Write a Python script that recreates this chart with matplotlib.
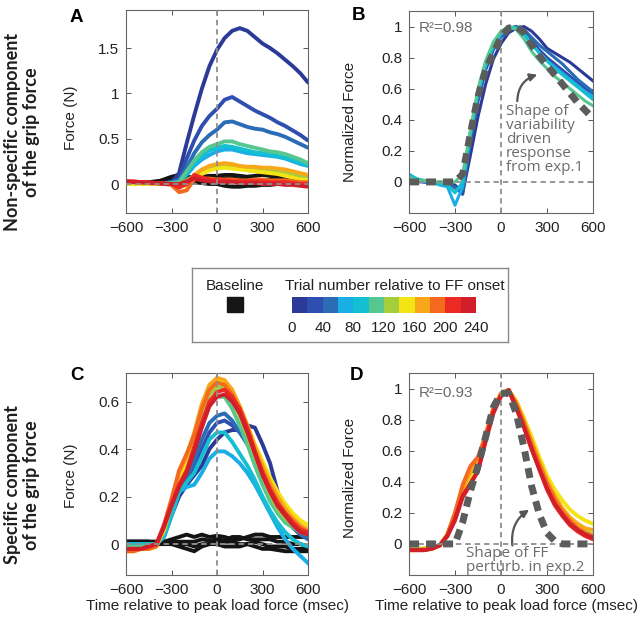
#!/usr/bin/python
# Grip force: non-specific (A, B) and specific (C, D) components vs time
# relative to peak load force, coloured by trial number after FF onset.

import matplotlib.pyplot as plt
from matplotlib.colors import ListedColormap
from matplotlib.patches import Rectangle
from matplotlib.ticker import FormatStrFormatter

plt.rcParams['font.family'] = ['Liberation Sans', 'DejaVu Sans']
row_font = ['Lato', 'DejaVu Sans']
note_font = ['Open Sans', 'DejaVu Sans']

# time relative to peak load force (msec)
t_ms = [-600, -550, -500, -450, -400, -350, -300, -250, -200, -150, -100, -50,
        0, 50, 100, 150, 200, 250, 300, 350, 400, 450, 500, 550, 600]
x_ticks = [-600, -300, 0, 300, 600]

# trial classes relative to FF onset (20 trials each)
trial_edges = [0, 20, 40, 60, 80, 100, 120, 140, 160, 180, 200, 220, 240]
trial_ticks = [0, 40, 80, 120, 160, 200, 240]
trial_colors = ['#2b3a96', '#2f4fb0', '#2a6cb6', '#1aaee6', '#13bfd0', '#55c78f',
                '#a5ce3c', '#f4e414', '#f8a71b', '#f4691e', '#ec2a24', '#d01f2a']

# ---- A: non-specific component, raw force (N), one curve per trial class
force_a = [
    [0.01, 0.01, 0.0, 0.0, 0.0, 0.01, 0.02, 0.12, 0.45, 0.76, 1.05, 1.30, 1.48, 1.61, 1.69, 1.72, 1.69, 1.62, 1.55, 1.50, 1.44, 1.37, 1.30, 1.22, 1.12],
    [0.01, 0.01, 0.0, 0.0, 0.0, 0.01, 0.02, 0.06, 0.28, 0.48, 0.64, 0.75, 0.83, 0.93, 0.96, 0.91, 0.86, 0.81, 0.77, 0.73, 0.68, 0.64, 0.59, 0.54, 0.48],
    [0.01, 0.01, 0.0, 0.0, 0.0, 0.01, 0.02, 0.04, 0.18, 0.34, 0.46, 0.54, 0.60, 0.68, 0.69, 0.66, 0.63, 0.61, 0.60, 0.57, 0.55, 0.52, 0.48, 0.44, 0.40],
    [0.0, 0.0, 0.0, 0.0, 0.0, 0.0, 0.01, 0.02, 0.10, 0.20, 0.27, 0.32, 0.36, 0.38, 0.38, 0.36, 0.34, 0.33, 0.32, 0.31, 0.30, 0.28, 0.25, 0.22, 0.20],
    [0.0, 0.0, 0.0, 0.0, 0.0, 0.0, 0.01, 0.02, 0.12, 0.23, 0.31, 0.37, 0.40, 0.42, 0.41, 0.39, 0.37, 0.35, 0.34, 0.33, 0.31, 0.29, 0.27, 0.24, 0.21],
    [0.0, 0.0, 0.0, 0.0, 0.0, 0.0, 0.01, 0.02, 0.14, 0.26, 0.35, 0.41, 0.44, 0.47, 0.47, 0.44, 0.42, 0.40, 0.38, 0.36, 0.35, 0.33, 0.30, 0.27, 0.23],
    [0.0, 0.0, 0.0, 0.0, 0.0, 0.0, 0.0, 0.0, 0.04, 0.09, 0.14, 0.17, 0.19, 0.20, 0.19, 0.18, 0.17, 0.16, 0.15, 0.15, 0.14, 0.13, 0.11, 0.09, 0.07],
    [0.0, 0.0, 0.0, 0.0, 0.0, 0.0, 0.0, -0.01, -0.02, 0.05, 0.11, 0.15, 0.17, 0.18, 0.17, 0.16, 0.15, 0.14, 0.13, 0.12, 0.11, 0.09, 0.07, 0.05, 0.04],
    [0.02, 0.02, 0.01, 0.01, 0.0, 0.0, 0.0, -0.03, 0.0, 0.10, 0.16, 0.20, 0.22, 0.23, 0.22, 0.20, 0.19, 0.19, 0.18, 0.18, 0.17, 0.16, 0.14, 0.12, 0.10],
    [0.03, 0.02, 0.02, 0.01, 0.01, 0.0, -0.01, -0.09, -0.07, 0.05, 0.06, 0.06, 0.05, 0.05, 0.05, 0.04, 0.04, 0.05, 0.05, 0.04, 0.04, 0.04, 0.03, 0.02, 0.02],
    [0.03, 0.03, 0.02, 0.02, 0.01, 0.01, 0.0, -0.04, 0.0, 0.10, 0.07, 0.05, 0.04, 0.04, 0.03, 0.03, 0.03, 0.03, 0.03, 0.02, 0.02, 0.02, 0.01, 0.0, 0.0],
    [0.03, 0.02, 0.02, 0.01, 0.01, 0.0, 0.0, 0.0, 0.03, 0.06, 0.04, 0.03, 0.02, 0.02, 0.02, 0.01, 0.01, 0.01, 0.0, 0.0, 0.0, -0.01, -0.01, -0.02, -0.03],
]
baseline_a = [
    [0.0, 0.0, 0.01, 0.01, 0.02, 0.05, 0.08, 0.10, 0.08, 0.07, 0.08, 0.09, 0.09, 0.10, 0.10, 0.09, 0.08, 0.09, 0.10, 0.09, 0.08, 0.08, 0.07, 0.05, 0.03],
    [0.01, 0.01, 0.01, 0.01, 0.02, 0.02, 0.03, 0.04, 0.03, 0.02, 0.01, 0.0, 0.0, -0.02, -0.03, -0.03, -0.02, -0.02, -0.01, -0.01, 0.0, 0.0, 0.0, 0.0, 0.0],
    [0.02, 0.02, 0.02, 0.02, 0.03, 0.04, 0.05, 0.06, 0.05, 0.04, 0.05, 0.05, 0.05, 0.06, 0.06, 0.05, 0.05, 0.05, 0.04, 0.05, 0.05, 0.04, 0.04, 0.03, 0.02],
]

# ---- B: normalized non-specific force, first six trial classes
norm_b = [
    [0.02, 0.01, 0.0, -0.01, 0.0, -0.01, -0.02, -0.07, 0.17, 0.42, 0.63, 0.79, 0.89, 0.96, 0.99, 1.0, 0.97, 0.92, 0.86, 0.83, 0.80, 0.77, 0.73, 0.69, 0.65],
    [0.02, 0.0, 0.0, -0.01, -0.01, -0.01, -0.03, -0.08, 0.25, 0.52, 0.72, 0.85, 0.93, 0.98, 1.0, 0.97, 0.91, 0.85, 0.80, 0.76, 0.72, 0.68, 0.64, 0.60, 0.56],
    [0.03, 0.01, 0.0, 0.0, -0.01, -0.01, -0.04, -0.05, 0.28, 0.55, 0.74, 0.86, 0.94, 0.99, 1.0, 0.98, 0.93, 0.88, 0.84, 0.80, 0.76, 0.71, 0.66, 0.62, 0.58],
    [0.05, 0.02, 0.0, 0.0, -0.02, -0.03, -0.15, -0.03, 0.30, 0.57, 0.75, 0.87, 0.95, 0.99, 0.99, 0.95, 0.89, 0.83, 0.78, 0.74, 0.70, 0.66, 0.62, 0.58, 0.55],
    [0.04, 0.02, 0.01, 0.0, -0.01, -0.02, -0.07, 0.0, 0.32, 0.58, 0.76, 0.88, 0.96, 1.0, 0.99, 0.95, 0.89, 0.83, 0.78, 0.73, 0.69, 0.65, 0.61, 0.57, 0.53],
    [0.03, 0.01, 0.01, 0.0, 0.0, 0.0, 0.0, 0.05, 0.33, 0.60, 0.78, 0.90, 0.97, 1.0, 0.98, 0.92, 0.84, 0.78, 0.73, 0.68, 0.64, 0.60, 0.56, 0.52, 0.49],
]
shape_b = [0, 0, 0, 0, 0, 0, 0, 0.05, 0.31, 0.55, 0.72, 0.83, 0.93, 0.99, 1.0, 0.96, 0.88, 0.81, 0.75, 0.69, 0.63, 0.57, 0.51, 0.46, 0.41]

# ---- C: specific component, raw force (N)
force_c = [
    [0.0, 0.0, 0.0, 0.0, 0.0, 0.03, 0.12, 0.20, 0.25, 0.29, 0.33, 0.40, 0.44, 0.47, 0.48, 0.48, 0.50, 0.49, 0.42, 0.34, 0.22, 0.14, 0.09, 0.06, 0.05],
    [0.0, 0.0, 0.0, 0.0, 0.0, 0.04, 0.13, 0.22, 0.27, 0.32, 0.40, 0.47, 0.51, 0.52, 0.50, 0.47, 0.43, 0.38, 0.32, 0.25, 0.17, 0.11, 0.07, 0.04, 0.03],
    [0.0, 0.0, 0.0, 0.0, 0.0, 0.04, 0.13, 0.22, 0.28, 0.35, 0.44, 0.51, 0.54, 0.55, 0.52, 0.47, 0.42, 0.38, 0.33, 0.26, 0.18, 0.12, 0.07, 0.04, 0.02],
    [0.0, 0.0, 0.0, 0.0, 0.0, 0.03, 0.12, 0.22, 0.24, 0.25, 0.30, 0.36, 0.39, 0.39, 0.37, 0.34, 0.30, 0.25, 0.19, 0.13, 0.07, 0.02, -0.02, -0.05, -0.08],
    [0.0, 0.0, 0.0, 0.0, 0.0, 0.03, 0.12, 0.22, 0.26, 0.30, 0.37, 0.44, 0.47, 0.47, 0.43, 0.38, 0.33, 0.27, 0.20, 0.14, 0.09, 0.05, 0.02, 0.0, -0.01],
    [-0.01, -0.01, -0.01, -0.01, 0.0, 0.05, 0.16, 0.27, 0.33, 0.42, 0.52, 0.59, 0.62, 0.62, 0.57, 0.50, 0.42, 0.33, 0.25, 0.18, 0.13, 0.09, 0.07, 0.05, 0.04],
    [-0.02, -0.02, -0.02, -0.01, 0.0, 0.06, 0.17, 0.28, 0.35, 0.45, 0.56, 0.63, 0.66, 0.66, 0.61, 0.54, 0.46, 0.37, 0.29, 0.21, 0.15, 0.11, 0.08, 0.06, 0.05],
    [-0.03, -0.03, -0.02, -0.02, -0.01, 0.06, 0.17, 0.28, 0.35, 0.46, 0.58, 0.66, 0.69, 0.68, 0.64, 0.58, 0.50, 0.42, 0.35, 0.28, 0.22, 0.17, 0.13, 0.10, 0.08],
    [-0.03, -0.03, -0.02, -0.02, -0.01, 0.07, 0.18, 0.30, 0.37, 0.47, 0.59, 0.67, 0.70, 0.69, 0.65, 0.58, 0.50, 0.41, 0.33, 0.26, 0.20, 0.15, 0.11, 0.08, 0.06],
    [-0.03, -0.03, -0.02, -0.02, -0.01, 0.08, 0.19, 0.31, 0.38, 0.46, 0.57, 0.65, 0.68, 0.67, 0.63, 0.56, 0.48, 0.39, 0.31, 0.24, 0.18, 0.13, 0.10, 0.07, 0.05],
    [-0.02, -0.02, -0.02, -0.01, 0.0, 0.08, 0.17, 0.25, 0.31, 0.41, 0.51, 0.60, 0.64, 0.65, 0.62, 0.57, 0.49, 0.39, 0.30, 0.23, 0.17, 0.13, 0.09, 0.06, 0.05],
    [-0.02, -0.02, -0.02, -0.01, 0.0, 0.07, 0.16, 0.24, 0.30, 0.39, 0.49, 0.58, 0.62, 0.63, 0.60, 0.55, 0.47, 0.38, 0.29, 0.22, 0.16, 0.12, 0.08, 0.05, 0.04],
]
baseline_c = [
    [0.01, 0.01, 0.01, 0.01, 0.0, 0.01, 0.02, 0.03, 0.04, 0.03, 0.04, 0.03, 0.035, 0.03, 0.02, 0.02, 0.03, 0.04, 0.04, 0.03, 0.03, 0.03, 0.03, 0.03, 0.03],
    [0.01, 0.01, 0.01, 0.01, 0.01, 0.01, 0.0, -0.01, -0.02, -0.03, -0.01, 0.0, 0.0, -0.01, -0.01, -0.01, 0.0, 0.01, 0.0, -0.01, -0.01, -0.01, -0.02, -0.02, -0.02],
    [0.01, 0.01, 0.01, 0.01, 0.01, 0.01, 0.01, 0.01, 0.01, 0.01, 0.02, 0.015, 0.02, 0.015, 0.03, 0.03, 0.02, 0.02, 0.02, 0.02, 0.01, 0.01, 0.0, 0.0, -0.01],
    [0.01, 0.01, 0.01, 0.01, 0.0, 0.0, 0.0, 0.0, 0.0, -0.01, 0.0, 0.0, 0.01, 0.01, 0.01, 0.0, 0.0, -0.01, -0.02, -0.02, -0.025, -0.03, -0.03, -0.03, -0.03],
]

# ---- D: normalized specific force, last six trial classes
norm_d = [
    [-0.03, -0.03, -0.03, -0.02, -0.01, 0.06, 0.19, 0.33, 0.42, 0.52, 0.70, 0.87, 0.97, 0.99, 0.90, 0.77, 0.64, 0.51, 0.40, 0.30, 0.22, 0.16, 0.11, 0.08, 0.06],
    [-0.04, -0.04, -0.03, -0.03, -0.01, 0.05, 0.18, 0.33, 0.42, 0.52, 0.70, 0.87, 0.97, 0.99, 0.92, 0.81, 0.69, 0.56, 0.44, 0.35, 0.28, 0.22, 0.18, 0.15, 0.13],
    [-0.04, -0.04, -0.03, -0.03, -0.01, 0.06, 0.20, 0.36, 0.46, 0.54, 0.70, 0.87, 0.97, 0.99, 0.91, 0.79, 0.66, 0.53, 0.41, 0.31, 0.23, 0.17, 0.13, 0.10, 0.09],
    [-0.04, -0.04, -0.04, -0.03, -0.01, 0.06, 0.20, 0.38, 0.50, 0.56, 0.70, 0.87, 0.96, 0.99, 0.90, 0.78, 0.64, 0.51, 0.39, 0.29, 0.21, 0.15, 0.10, 0.07, 0.05],
    [-0.04, -0.04, -0.04, -0.03, -0.01, 0.05, 0.15, 0.30, 0.38, 0.47, 0.67, 0.85, 0.96, 0.99, 0.87, 0.75, 0.61, 0.48, 0.35, 0.25, 0.18, 0.12, 0.08, 0.05, 0.03],
    [-0.04, -0.04, -0.04, -0.03, -0.01, 0.05, 0.16, 0.31, 0.39, 0.47, 0.66, 0.84, 0.95, 0.99, 0.88, 0.75, 0.61, 0.48, 0.36, 0.26, 0.19, 0.13, 0.09, 0.06, 0.04],
]
shape_d = [0, 0, 0, 0, 0, 0, 0.0, 0.14, 0.34, 0.50, 0.69, 0.88, 0.97, 0.97, 0.84, 0.62, 0.37, 0.19, 0.07, 0.02, 0, 0, 0, 0, 0]

W, H = 640, 621


def fx(px):
    return px / W


def fy(py):
    return 1 - py / H


def add_panel(left, top, right, bottom):
    return fig.add_axes([fx(left), fy(bottom), (right - left) / W, (bottom - top) / H])


def style(ax, ylim, yticks, ylabel, ylab_xy):
    ax.set_xlim(-600, 600)
    ax.set_ylim(*ylim)
    ax.set_xticks(x_ticks)
    ax.set_yticks(yticks)
    ax.yaxis.set_major_formatter(FormatStrFormatter('%g'))
    ax.tick_params(direction='in', top=True, right=True, length=3.5, width=0.7,
                   color='#555555', labelsize=11, labelcolor='#222222')
    ax.tick_params(axis='x', pad=5.5)
    ax.tick_params(axis='y', pad=5)
    for s in ax.spines.values():
        s.set_color('#666666')
        s.set_linewidth(0.8)
    ax.set_ylabel(ylabel, fontsize=11, color='#222222')
    ax.yaxis.set_label_coords(*ylab_xy)
    ax.axvline(0, color='#8f8f8f', lw=1.3, ls=(0, (3, 2.2)), zorder=6)
    ax.axhline(0, color='#8f8f8f', lw=1.3, ls=(0, (3, 2.2)), zorder=6)


fig = plt.figure(figsize=(6.4, 6.21), dpi=100)

axA = add_panel(126, 10, 308, 213)
axB = add_panel(409, 11, 593, 213)
axC = add_panel(126, 373, 308, 575)
axD = add_panel(409, 373, 593, 575)

# A
for y in baseline_a:
    axA.plot(t_ms, y, color='#141414', lw=2.8)
for y, c in zip(force_a, trial_colors):
    axA.plot(t_ms, y, color=c, lw=2.8, solid_capstyle='round')
style(axA, (-0.32, 1.92), [0, 0.5, 1, 1.5], 'Force (N)', (-0.264, 0.47))

# B
for y, c in zip(norm_b, trial_colors[:6]):
    axB.plot(t_ms, y, color=c, lw=2.2)
axB.plot(t_ms, shape_b, color='#5c5c5c', lw=5, dashes=(1.45, 1.0),
         dash_capstyle='butt', zorder=7)
style(axB, (-0.2, 1.1), [0, 0.2, 0.4, 0.6, 0.8, 1], 'Normalized Force', (-0.28, 0.45))
axB.text(-535, 0.966, 'R²=0.98', fontsize=11, color='#6b6b6b', va='baseline')
# multi-line text: 'baseline' aligns the last line
axB.text(31, 0.07, 'Shape of\nvariability\ndriven\nresponse\nfrom exp.1',
         family=note_font, fontsize=11, color='#6b6b6b', va='baseline', linespacing=0.92)
axB.annotate('', xy=(237, 0.69), xytext=(106, 0.52),
             arrowprops=dict(arrowstyle='-|>', color='#555555', lw=1.6, shrinkA=0, shrinkB=0,
                             mutation_scale=11, connectionstyle='arc3,rad=-0.35'))

# C
for y in baseline_c:
    axC.plot(t_ms, y, color='#141414', lw=2.8)
for y, c in zip(force_c, trial_colors):
    axC.plot(t_ms, y, color=c, lw=2.8)
style(axC, (-0.13, 0.72), [0, 0.2, 0.4, 0.6], 'Force (N)', (-0.266, 0.49))
axC.set_xlabel('Time relative to peak load force (msec)', fontsize=11, color='#222222')
axC.xaxis.set_label_coords(0.5, -0.118)

# D
for y, c in zip(norm_d, trial_colors[6:]):
    axD.plot(t_ms, y, color=c, lw=2.8)
axD.plot(t_ms, shape_d, color='#5c5c5c', lw=5, dashes=(1.45, 1.0),
         dash_capstyle='butt', zorder=7)
style(axD, (-0.2, 1.1), [0, 0.2, 0.4, 0.6, 0.8, 1], 'Normalized Force', (-0.28, 0.48))
axD.set_xlabel('Time relative to peak load force (msec)', fontsize=11, color='#222222')
axD.xaxis.set_label_coords(0.53, -0.118)
axD.text(-535, 0.943, 'R²=0.93', fontsize=11, color='#6b6b6b', va='baseline')
axD.text(-228, -0.172, 'Shape of FF\nperturb. in exp.2', family=note_font, fontsize=11,
         color='#6b6b6b', va='baseline', linespacing=0.92, zorder=8)
axD.annotate('', xy=(183, 0.22), xytext=(74, -0.01),
             arrowprops=dict(arrowstyle='-|>', color='#555555', lw=1.6, shrinkA=0, shrinkB=0,
                             mutation_scale=11, connectionstyle='arc3,rad=-0.3'))

# panel letters
for letter, (px, py) in zip('ABCD', [(70, 21.7), (352, 20), (70, 380), (350, 380)]):
    fig.text(fx(px), fy(py), letter, fontsize=13.5, fontweight='bold', va='baseline')

# row labels
fig.text(fx(22), fy(132), 'Non-specific component\nof the grip force', rotation=90,
         ha='center', va='center', multialignment='center', family=row_font,
         fontweight='bold', fontsize=13, linespacing=1.1, color='#1e1e1e')
fig.text(fx(22), fy(485), 'Specific component\nof the grip force', rotation=90,
         ha='center', va='center', multialignment='center', family=row_font,
         fontweight='bold', fontsize=13, linespacing=1.1, color='#1e1e1e')

# legend box
box = add_panel(192, 268, 508, 342)
box.set_xticks([])
box.set_yticks([])
for s in box.spines.values():
    s.set_color('#8a8a8a')
    s.set_linewidth(1.0)
fig.text(fx(235), fy(290), 'Baseline', fontsize=11, ha='center', va='baseline', color='#222222')
fig.add_artist(Rectangle((fx(227), fy(312)), 16 / W, 15 / H, transform=fig.transFigure,
                         color='#161616'))
fig.text(fx(285), fy(290), 'Trial number relative to FF onset', fontsize=11,
         va='baseline', color='#222222')
cbar = add_panel(292, 297, 476, 313)
cbar.pcolormesh(trial_edges, [0, 1], [list(range(12))], cmap=ListedColormap(trial_colors))
cbar.set_xlim(0, 240)
cbar.set_xticks(trial_ticks)
cbar.set_yticks([])
cbar.tick_params(length=0, labelsize=11, pad=6, labelcolor='#222222')
for s in cbar.spines.values():
    s.set_visible(False)

fig.savefig('out.png', dpi=100)
